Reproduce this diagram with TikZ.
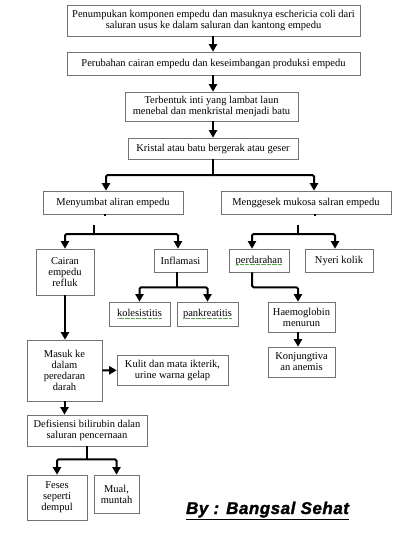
\documentclass[tikz,border=0pt]{standalone}
\usepackage{fontspec}
\setmainfont{Liberation Serif}
\newfontfamily\olehfont[LetterSpace=3,FakeBold=1.5]{Liberation Sans}
\usetikzlibrary{arrows.meta}

\definecolor{hijauejaan}{RGB}{90,160,80}

% garis titik hijau di bawah kata (seperti tanda ejaan)
\newcommand\salah[1]{\setbox0=\hbox{#1}\rlap{\copy0}\textcolor{hijauejaan}{\raisebox{-1.8pt}{\hbox to \wd0{\xleaders\hbox to 1.2pt{\hss\rule{0.6pt}{0.6pt}\hss}\hfill}}}}

\tikzset{
    kotak/.style={draw=black!55,
        line width=0.6pt,
        inner sep=1pt,
        align=center,
        font=\fontsize{10.5}{11}\selectfont},
    garis/.style={line width=2pt, rounded corners=1.5pt},
    panah/.style={garis, -{Triangle[width=8pt,length=7.5pt]}}
}

\begin{document}
\begin{tikzpicture}[x=1pt,y=-1pt]
    \useasboundingbox (0,0) rectangle (418,533);

    % rantai atas
    \node[kotak, minimum width=293pt, minimum height=31pt] (tumpuk) at (213.5,20.5)
        {Penumpukan komponen empedu dan masuknya eschericia coli dari\\saluran usus ke dalam saluran dan kantong empedu};
    \node[kotak, minimum width=293pt, minimum height=23pt] (ubah) at (213.5,63.5)
        {Perubahan cairan empedu dan keseimbangan produksi empedu};
    \node[kotak, minimum width=173pt, minimum height=29pt] (inti) at (211.5,106.5)
        {Terbentuk inti yang lambat laun\\menebal dan menkristal menjadi batu};
    \node[kotak, minimum width=170pt, minimum height=21pt] (kristal) at (213,148.5)
        {Kristal atau batu bergerak atau geser};

    \draw[panah] (tumpuk.south -| 213,0) -- (ubah.north -| 213,0);
    \draw[panah] (ubah.south -| 213,0) -- (inti.north -| 213,0);
    \draw[panah] (inti.south -| 213,0) -- (kristal.north -| 213,0);

    % dua cabang
    \node[kotak, minimum width=140pt, minimum height=23pt] (sumbat) at (113,202.5)
        {Menyumbat aliran empedu};
    \node[kotak, minimum width=170pt, minimum height=23pt] (gesek) at (306,202.5)
        {Menggesek mukosa salran empedu};

    \coordinate (j1) at (213,175);
    \draw[garis] (kristal) -- (j1);
    \draw[panah] (j1) -| ([xshift=-7pt]sumbat.north);
    \draw[panah] (j1) -| ([xshift=8pt]gesek.north);
    \draw[line width=1.5pt] ([xshift=-8pt]sumbat.south) -- ++(0,2);
    \draw[line width=1.5pt] ([xshift=9pt]gesek.south) -- ++(0,2);

    % cabang kiri
    \node[kotak, minimum width=58pt, minimum height=46pt] (cairan) at (65,272)
        {Cairan\\empedu\\refluk};
    \node[kotak, minimum width=53pt, minimum height=23pt] (inflamasi) at (180.5,260.5)
        {Inflamasi};
    \node[kotak, minimum width=61pt, minimum height=24pt] (koles) at (139.5,314)
        {\salah{kolesistitis}};
    \node[kotak, minimum width=61pt, minimum height=24pt] (pankreas) at (207.5,314)
        {\salah{pankreatitis}};

    \coordinate (k5) at (94,225);
    \coordinate (j5) at (94,234);
    \draw[garis] (k5) -- (j5);
    \draw[panah] (j5) -| (cairan);
    \draw[panah] (j5) -| ([xshift=-2.5pt]inflamasi.north);
    \draw[garis] ([xshift=-3.5pt]inflamasi.south) -- ++(0,15) coordinate (j8);
    \draw[panah] (j8) -| (koles);
    \draw[panah] (j8) -| (pankreas);

    % cabang kanan
    \node[kotak, minimum width=60pt, minimum height=23pt] (darah) at (259,260.5)
        {\salah{perdarahan}};
    \node[kotak, minimum width=68pt, minimum height=23pt] (nyeri) at (339,260.5)
        {Nyeri kolik};
    \node[kotak, minimum width=67pt, minimum height=30pt] (hb) at (301.5,317)
        {Haemoglobin\\menurun};
    \node[kotak, minimum width=67pt, minimum height=30pt] (konj) at (301.5,362)
        {Konjungtiva\\an anemis};

    \coordinate (k6) at (298,225);
    \coordinate (j6) at (298,234);
    \draw[garis] (k6) -- (j6);
    \draw[panah] (j6) -| ([xshift=-7pt]darah.north);
    \draw[panah] (j6) -| ([xshift=-4pt]nyeri.north);
    \draw[panah] ([xshift=-7pt]darah.south) -- ++(0,15) -| ([xshift=-3.5pt]hb.north);
    \draw[panah] ([xshift=-3.5pt]hb.south) -- ([xshift=-3.5pt]konj.north);

    % bawah kiri
    \node[kotak, minimum width=75pt, minimum height=61pt] (masuk) at (64.5,370.5)
        {Masuk ke\\dalam\\peredaran\\darah};
    \node[kotak, minimum width=111pt, minimum height=30pt] (kulit) at (172.5,370)
        {Kulit dan mata ikterik,\\urine warna gelap};
    \node[kotak, minimum width=120pt, minimum height=31pt] (defis) at (87,430.5)
        {Defisiensi bilirubin dalan\\saluran pencernaan};
    \node[kotak, minimum width=60pt, minimum height=45pt] (feses) at (57,497.5)
        {Feses\\seperti\\dempul};
    \node[kotak, minimum width=45pt, minimum height=38pt] (mual) at (116.5,494)
        {Mual,\\muntah};

    \draw[panah] (cairan.south) -- (cairan.south |- masuk.north);
    \draw[panah] (masuk) -- (kulit);
    \draw[panah] (masuk.south) -- (masuk.south |- defis.north);
    \draw[garis] (defis.south) -- ++(0,13) coordinate (j17);
    \draw[panah] (j17) -| (feses);
    \draw[panah] (j17) -| (mual);

    \node[anchor=base, inner sep=0pt,
        font=\olehfont\fontsize{17}{17}\selectfont\bfseries\itshape] (oleh) at (267.5,514)
        {\underline{By : Bangsal Sehat}};
\end{tikzpicture}
\end{document}
